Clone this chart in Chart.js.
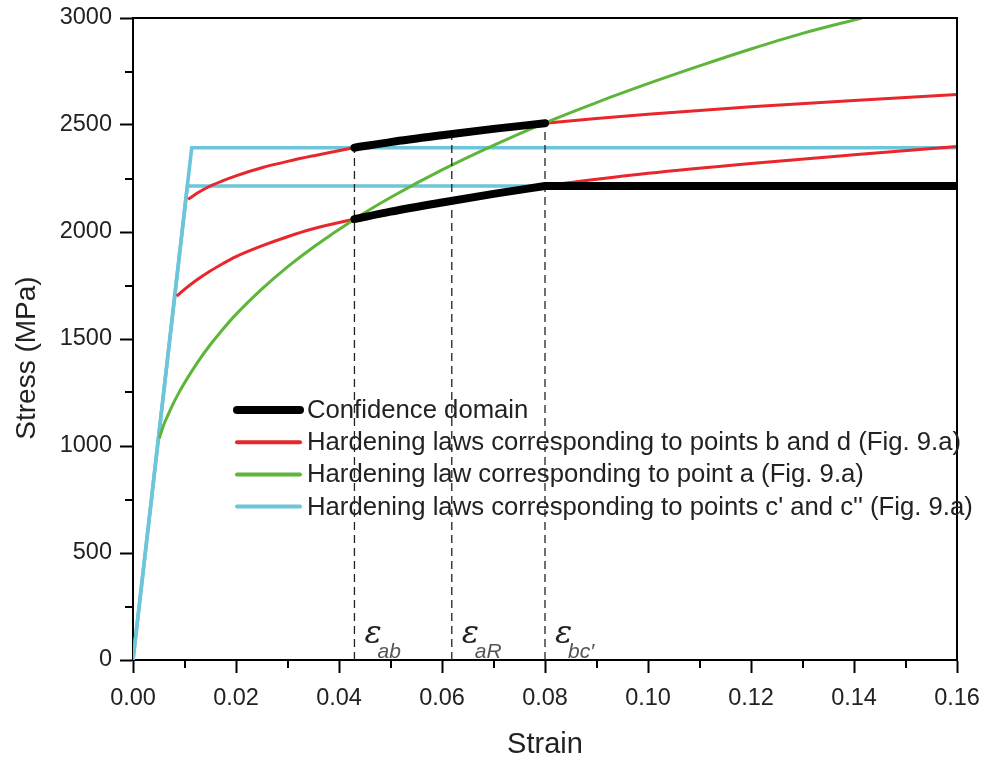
<!DOCTYPE html>
<html><head><meta charset="utf-8">
<script src="https://cdn.jsdelivr.net/npm/chart.js@4.4.1/dist/chart.umd.min.js"></script>
<style>html,body{margin:0;padding:0;background:#fff}</style>
</head><body>
<canvas id="c" width="986" height="762"></canvas>
<script>
// ---- data ----
const seriesLabels = [
  "Confidence domain",
  "Hardening laws corresponding to points b and d (Fig. 9.a)",
  "Hardening law corresponding to point a (Fig. 9.a)",
  "Hardening laws corresponding to points c' and c'' (Fig. 9.a)"
];
const xTitle = "Strain";
const yTitle = "Stress (MPa)";

const cyanUpperStrain = [0, 0.0114, 0.16];
const cyanUpperStress = [0, 2394, 2394];
const cyanLowerStrain = [0, 0.01055, 0.16];
const cyanLowerStress = [0, 2215, 2215];

const redUpperStrain = [0.0107, 0.0125, 0.015, 0.0175, 0.02, 0.025, 0.03, 0.035, 0.043, 0.05, 0.06, 0.07, 0.08, 0.09, 0.10, 0.12, 0.14, 0.16];
const redUpperStress = [2153, 2182, 2215, 2240, 2262, 2300, 2330, 2356, 2394, 2420, 2452, 2482, 2508, 2530, 2550, 2585, 2615, 2642];

const redLowerStrain = [0.0085, 0.01, 0.0125, 0.015, 0.0175, 0.02, 0.025, 0.03, 0.035, 0.043, 0.05, 0.06, 0.07, 0.08, 0.09, 0.10, 0.12, 0.14, 0.16];
const redLowerStress = [1700, 1732, 1778, 1818, 1853, 1885, 1935, 1978, 2015, 2060, 2095, 2138, 2178, 2215, 2246, 2274, 2320, 2361, 2400];

const greenStrain = [0.0051, 0.006, 0.007, 0.008, 0.009, 0.01, 0.0125, 0.015, 0.0175, 0.02, 0.025, 0.03, 0.035, 0.043, 0.05, 0.06, 0.07, 0.08, 0.09, 0.10, 0.11, 0.12, 0.13, 0.1415];
const greenStress = [1035, 1101, 1156, 1207, 1253, 1295, 1390, 1473, 1547, 1615, 1733, 1837, 1929, 2060, 2161, 2290, 2405, 2510, 2605, 2693, 2776, 2855, 2928, 3000];

const confUpperStrain = [0.043, 0.05, 0.06, 0.07, 0.08];
const confUpperStress = [2394, 2420, 2452, 2482, 2508];
const confLowerStrain = [0.043, 0.05, 0.06, 0.07, 0.08];
const confLowerStress = [2060, 2095, 2138, 2178, 2215];
const confFlatStrain = [0.08, 0.16];
const confFlatStress = [2215, 2215];

const markerStrains = [0.043, 0.0619, 0.08];
const markerTops = [2394, 2458, 2508];
const markerNames = ["ab", "aR", "bc\u2032"];

const xMin = 0, xMax = 0.16, yMin = 0, yMax = 3000;

// ---- styles ----
const C_BLACK = '#000000', C_RED = '#e8262b', C_GREEN = '#5db53a', C_CYAN = '#6cc5d9';
const FONT = '"Liberation Sans", Arial, sans-serif';
const TXT = '#222222';

function zip(xs, ys) { return xs.map((x, i) => ({ x: x, y: ys[i] })); }
const GAP = [{ x: 0.08, y: null }];

const confData = zip(confUpperStrain, confUpperStress)
  .concat(GAP, zip(confLowerStrain, confLowerStress), GAP, zip(confFlatStrain, confFlatStress));

const datasets = [
  { label: seriesLabels[0], data: confData, borderColor: C_BLACK, borderWidth: 8, borderCapStyle: 'round', borderJoinStyle: 'round', spanGaps: false, cubicInterpolationMode: 'monotone', legendWidth: 8 },
];
markerStrains.forEach((s, i) => {
  datasets.push({ label: 'marker' + i, data: [{ x: s, y: yMin }, { x: s, y: markerTops[i] }], borderColor: '#222', borderWidth: 1.3, borderDash: [8, 5], tension: 0 });
});
datasets.push(
  { label: seriesLabels[2], data: zip(greenStrain, greenStress), borderColor: C_GREEN, borderWidth: 3, cubicInterpolationMode: 'monotone', legendWidth: 4 },
  { label: seriesLabels[1], data: zip(redUpperStrain, redUpperStress), borderColor: C_RED, borderWidth: 3, cubicInterpolationMode: 'monotone', legendWidth: 4 },
  { label: seriesLabels[1] + ' (2)', data: zip(redLowerStrain, redLowerStress), borderColor: C_RED, borderWidth: 3, cubicInterpolationMode: 'monotone' },
  { label: seriesLabels[3], data: zip(cyanUpperStrain, cyanUpperStress), borderColor: C_CYAN, borderWidth: 3.6, tension: 0, legendWidth: 4 },
  { label: seriesLabels[3] + ' (2)', data: zip(cyanLowerStrain, cyanLowerStress), borderColor: C_CYAN, borderWidth: 3.6, tension: 0 }
);
datasets.forEach(d => { d.pointRadius = 0; d.pointHoverRadius = 0; d.fill = false; });

const legendOrder = [seriesLabels[0], seriesLabels[1], seriesLabels[2], seriesLabels[3]];

function isMajorX(v) { return Math.round(v * 100) % 2 === 0; }
function isMajorY(v) { return Math.round(v) % 500 === 0; }

const framePlugin = {
  id: 'frame',
  afterDraw(chart) {
    const ctx = chart.ctx, a = chart.chartArea;
    ctx.save();
    ctx.strokeStyle = '#000'; ctx.lineWidth = 2;
    ctx.beginPath();
    ctx.moveTo(a.left, a.top); ctx.lineTo(a.right, a.top); ctx.lineTo(a.right, a.bottom);
    ctx.stroke();
    const xs = chart.scales.x, ys = chart.scales.y;
    xs.ticks.forEach(t => {
      if (!isMajorX(t.value)) {
        const px = Math.round(xs.getPixelForValue(t.value));
        ctx.beginPath(); ctx.moveTo(px, a.bottom); ctx.lineTo(px, a.bottom + 8); ctx.stroke();
      }
    });
    ys.ticks.forEach(t => {
      if (!isMajorY(t.value)) {
        const py = Math.round(ys.getPixelForValue(t.value));
        ctx.beginPath(); ctx.moveTo(a.left - 8, py); ctx.lineTo(a.left, py); ctx.stroke();
      }
    });
    // y axis title
    ctx.fillStyle = TXT; ctx.font = '28px ' + FONT; ctx.textAlign = 'center'; ctx.textBaseline = 'middle';
    ctx.translate(27, (a.top + a.bottom) / 2 + 19);
    ctx.rotate(-Math.PI / 2);
    ctx.fillText(yTitle, 0, 0);
    ctx.restore();
  }
};

const legendPlugin = {
  id: 'innerLegend',
  afterDraw(chart) {
    const ctx = chart.ctx;
    const x0 = 237, x1 = 300, tx = 307, yStart = 410, dy = 32.2;
    ctx.save();
    legendOrder.forEach((lab, i) => {
      const ds = chart.data.datasets.find(d => d.label === lab);
      const y = yStart + i * dy;
      ctx.strokeStyle = ds.borderColor; ctx.lineWidth = ds.legendWidth; ctx.lineCap = 'round';
      ctx.beginPath(); ctx.moveTo(x0, y); ctx.lineTo(x1, y); ctx.stroke();
      ctx.fillStyle = TXT; ctx.font = '25.7px ' + FONT; ctx.textBaseline = 'middle'; ctx.textAlign = 'left';
      ctx.fillText(lab, tx, y + 1);
    });
    ctx.restore();
  }
};

const epsPlugin = {
  id: 'epsLabels',
  afterDraw(chart) {
    const ctx = chart.ctx, xs = chart.scales.x, a = chart.chartArea;
    ctx.save();
    ctx.textBaseline = 'alphabetic'; ctx.textAlign = 'left';
    markerStrains.forEach((s, i) => {
      const px = xs.getPixelForValue(s);
      ctx.fillStyle = '#222';
      ctx.font = 'italic 32px "DejaVu Serif", serif';
      ctx.fillText('\u03B5', px + 10, a.bottom - 17);
      ctx.fillStyle = '#555';
      ctx.font = 'italic 21px ' + FONT;
      ctx.fillText(markerNames[i], px + 23, a.bottom - 2);
    });
    ctx.restore();
  }
};

new Chart(document.getElementById('c'), {
  type: 'line',
  data: { datasets: datasets },
  options: {
    responsive: false,
    animation: false,
    layout: { padding: { left: 0, top: 18, right: 29, bottom: 0 } },
    plugins: { legend: { display: false }, tooltip: { enabled: false } },
    scales: {
      x: {
        type: 'linear', min: xMin, max: xMax,
        afterFit(s) { s.height = 102; s.paddingLeft = 0; s.paddingRight = 0; },
        ticks: {
          stepSize: 0.01, autoSkip: false, maxRotation: 0, padding: 11,
          font: { size: 23.5, family: FONT }, color: TXT,
          callback: v => isMajorX(v) ? v.toFixed(2) : ''
        },
        grid: { drawOnChartArea: false, drawTicks: true, tickLength: 13, tickWidth: 2,
          tickColor: c => (c.tick && isMajorX(c.tick.value)) ? '#000' : 'rgba(0,0,0,0)' },
        border: { display: true, color: '#000', width: 2 },
        title: { display: true, text: xTitle, font: { size: 29, family: FONT }, color: TXT, padding: { top: 0, bottom: 0 } }
      },
      y: {
        type: 'linear', min: yMin, max: yMax,
        afterFit(s) { s.width = 133; s.paddingTop = 0; s.paddingBottom = 0; },
        ticks: {
          stepSize: 250, autoSkip: false, padding: 8,
          font: { size: 23.5, family: FONT }, color: TXT,
          callback: v => isMajorY(v) ? String(v) : ''
        },
        grid: { drawOnChartArea: false, drawTicks: true, tickLength: 13, tickWidth: 2,
          tickColor: c => (c.tick && isMajorY(c.tick.value)) ? '#000' : 'rgba(0,0,0,0)' },
        border: { display: true, color: '#000', width: 2 },
        title: { display: false }
      }
    }
  },
  plugins: [framePlugin, legendPlugin, epsPlugin]
});
</script>
</body></html>
